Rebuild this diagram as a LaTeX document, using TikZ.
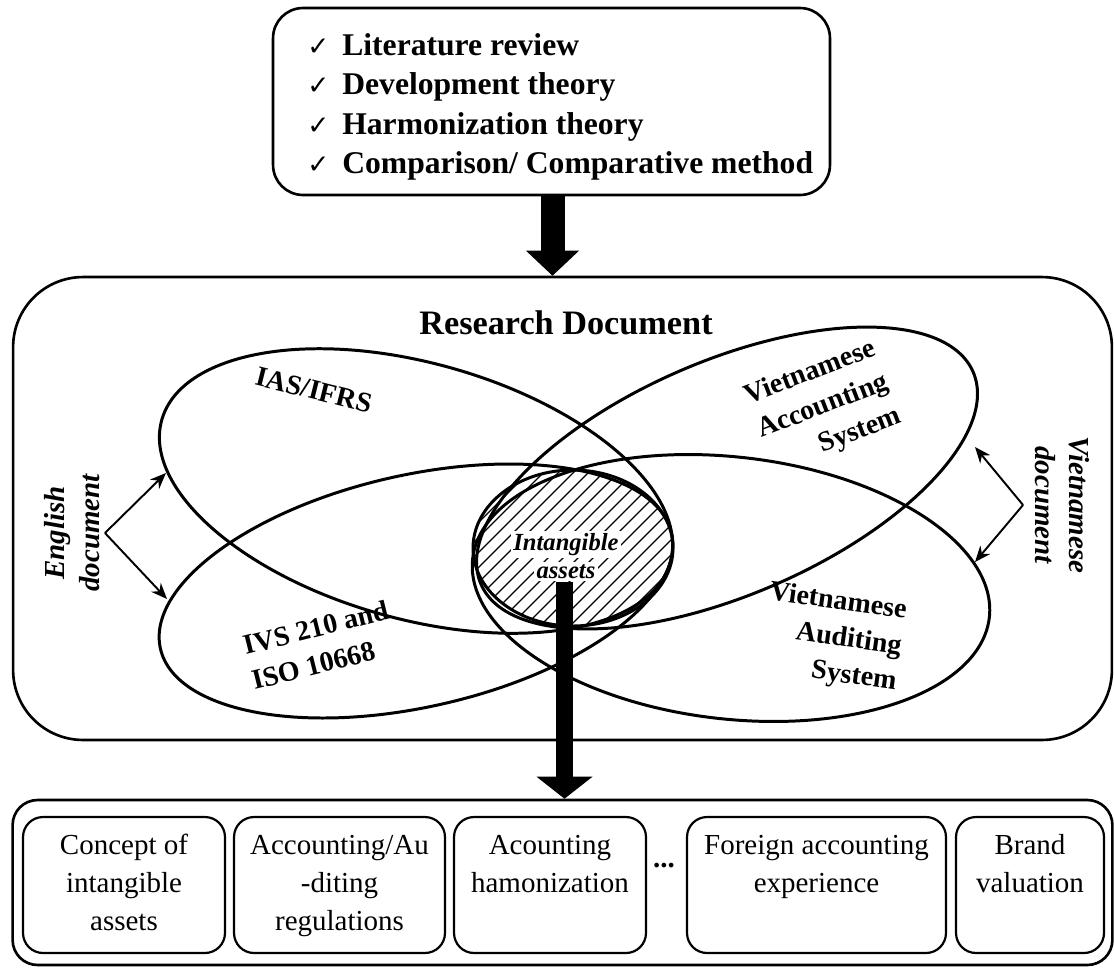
\documentclass[tikz,border=0pt]{standalone}
\usepackage{fontspec}
\setmainfont{Liberation Serif}
\newfontfamily\dejavu{DejaVu Sans}
\usetikzlibrary{arrows.meta}
\setlength{\fboxsep}{1.5pt}
\newcommand{\chk}{\makebox[19.9pt][l]{\dejavu\fontsize{15}{15}\selectfont ✓}}
\begin{document}
\begin{tikzpicture}[x=0.02cm,y=0.02cm,
  boxline/.style={draw, line width=1.5pt},
  ell/.style={line width=1.7pt},
  hatchline/.style={line width=0.7pt},
  lab/.style={font=\fontsize{16}{20.5}\selectfont\bfseries, inner sep=0pt},
  doclab/.style={font=\fontsize{16.5}{19.5}\selectfont\bfseries\itshape, inner sep=3pt, align=center},
  thinarrow/.style={line width=1.1pt, -{Stealth[length=0.32cm, width=0.26cm]}},
  fatA/.style={line width=0.48cm, -{Triangle[width=1.06cm, length=0.5cm, line width=0pt]}},
  fatB/.style={line width=0.34cm, -{Triangle[width=1.12cm, length=0.44cm, line width=0pt]}},
  item/.style={anchor=base west, inner sep=0pt, font=\fontsize{18}{22}\selectfont\bfseries},
  smallbox/.style={draw, line width=1.25pt, rounded corners=0.4cm, minimum height=2.72cm, inner sep=0pt},
  boxtext/.style={anchor=north, inner sep=0pt, align=center, font=\fontsize{16.5}{21.6}\selectfont}]
\useasboundingbox (0,0) rectangle (1114,-970);

% top box
\node[boxline, rounded corners=0.6cm, minimum width=11.14cm, minimum height=3.74cm, inner sep=0pt] (topbox) at (551.5,-101.5) {};
\node[item] (i1) at (307,-55) {\chk Literature review};
\node[item] (i2) at (307,-94.5) {\chk Development theory};
\node[item] (i3) at (307,-134) {\chk Harmonization theory};
\node[item] (i4) at (307,-173) {\chk Comparison/ Comparative method};

% research box
\node[boxline, rounded corners=1.4cm, minimum width=21.98cm, minimum height=9.26cm, inner sep=0pt] (rd) at (562.5,-508.5) {};
\node[font=\fontsize{19.5}{23}\selectfont\bfseries, anchor=base, inner sep=0pt] (rdt) at (566,-334) {Research Document};

\coordinate (ax) at (552.5,0);
\draw[fatA] (topbox.south -| ax) -- (rd.north -| ax);

% ellipses
\draw[ell, rotate around={-15.6:(416,-491)}] (416,-491) ellipse [x radius=264, y radius=128];
\draw[ell, rotate around={12.7:(416,-591)}] (416,-591) ellipse [x radius=262, y radius=116];
\draw[ell, rotate around={23.3:(727,-478)}] (727,-478) ellipse [x radius=268, y radius=117];
\draw[ell, rotate around={-6.5:(731,-588)}] (731,-588) ellipse [x radius=260, y radius=131];

% hatched centre
\begin{scope}
  \clip (573,-548) ellipse [x radius=100, y radius=78];
  \foreach \k in {-16,...,16} \draw[hatchline] ({573+15*\k-120},-668) -- ++(240,240);
\end{scope}
\draw[ell] (573,-548) ellipse [x radius=100, y radius=78];

% labels
\node[lab, rotate=-14] (ias) at (314,-390) {IAS/IFRS};
\node[lab, rotate=14, align=left] (ivs) at (320,-645) {IVS 210 and\\ISO 10668};
\node[lab, rotate=21, align=right] (vas) at (823,-407) {Vietnamese\\Accounting\\System};
\node[lab, rotate=-8, align=right] (vaus) at (833,-638) {Vietnamese\\Auditing\\System};

\node[doclab, rotate=90] (eng) at (72,-533) {English\\document};
\node[doclab, rotate=-90] (vn) at (1062,-505) {Vietnamese\\document};
\coordinate (ea) at (166,-473);
\coordinate (eb) at (167,-599);
\coordinate (va) at (975,-447);
\coordinate (vb) at (975,-562);
\draw[thinarrow] (eng.south) -- (ea);
\draw[thinarrow] (eng.south) -- (eb);
\draw[thinarrow] ([xshift=-0.12cm]vn.south) -- (va);
\draw[thinarrow] ([xshift=-0.12cm]vn.south) -- (vb);

\node[font=\fontsize{14}{15.8}\selectfont\bfseries\itshape, align=center, inner sep=0pt] (ia) at (566,-556) {\colorbox{white}{Intangible}\\\colorbox{white}{assets}};

% bottom container
\node[boxline, rounded corners=0.5cm, minimum width=22cm, minimum height=3.3cm, inner sep=0pt] (bot) at (562.5,-882.5) {};
\coordinate (bx) at (564.5,0);
\draw[fatB] (ia.south -| bx) -- (bot.north -| bx);

\node[smallbox, minimum width=4.04cm] (b1) at (124,-885) {};
\node[boxtext] (b1t) at ([yshift=-0.23cm]b1.north) {\strut Concept of\\intangible\\assets};
\node[smallbox, minimum width=4.22cm] (b2) at (339.5,-885) {};
\node[boxtext] (b2t) at ([yshift=-0.23cm]b2.north) {\strut Accounting/Au\\-diting\\regulations};
\node[smallbox, minimum width=3.84cm] (b3) at (550,-885) {};
\node[boxtext] (b3t) at ([yshift=-0.23cm]b3.north) {\strut Acounting\\hamonization};
\node[font=\fontsize{16.5}{20}\selectfont\bfseries, inner sep=0pt] (dots) at (664,-866) {...};
\node[smallbox, minimum width=5.18cm] (b4) at (816.5,-885) {};
\node[boxtext] (b4t) at ([yshift=-0.23cm]b4.north) {\strut Foreign accounting\\experience};
\node[smallbox, minimum width=2.96cm] (b5) at (1030,-885) {};
\node[boxtext] (b5t) at ([yshift=-0.23cm]b5.north) {\strut Brand\\valuation};
\end{tikzpicture}
\end{document}
